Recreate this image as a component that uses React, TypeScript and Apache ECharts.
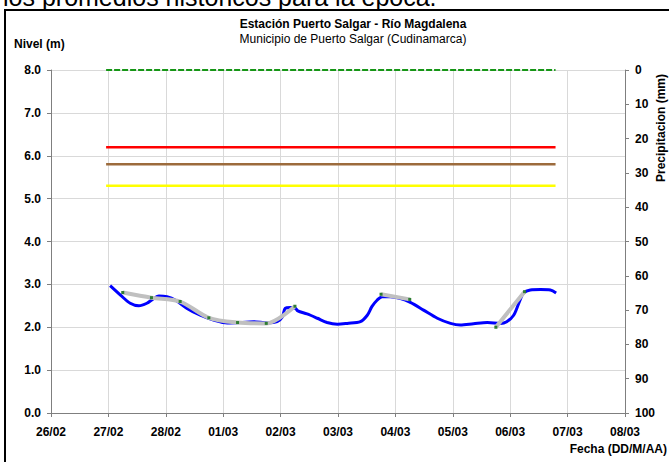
import React, { useEffect, useRef } from "react";
import * as echarts from "echarts";

const dateLabels = ["26/02", "27/02", "28/02", "01/03", "02/03", "03/03", "04/03", "05/03", "06/03", "07/03", "08/03"];

// x = days since 26/02, y = nivel (m)
const nivelObservado: [number, number][] = [
  [1.03, 2.97], [1.21, 2.75], [1.38, 2.56], [1.53, 2.5], [1.67, 2.56], [1.78, 2.66], [1.88, 2.73],
  [2.02, 2.71], [2.17, 2.63], [2.37, 2.44], [2.6, 2.28], [2.83, 2.17], [3.07, 2.1], [3.3, 2.11],
  [3.53, 2.13], [3.77, 2.1], [3.94, 2.13], [4.03, 2.24], [4.08, 2.44], [4.17, 2.46], [4.26, 2.44],
  [4.3, 2.38], [4.46, 2.31], [4.64, 2.21], [4.81, 2.11], [4.99, 2.07], [5.16, 2.09], [5.39, 2.13],
  [5.51, 2.28], [5.59, 2.48], [5.68, 2.63], [5.77, 2.71], [5.91, 2.71], [6.09, 2.67], [6.26, 2.58],
  [6.49, 2.4], [6.73, 2.21], [6.96, 2.09], [7.13, 2.05], [7.36, 2.08], [7.6, 2.11], [7.83, 2.09],
  [7.94, 2.13], [8.06, 2.28], [8.15, 2.56], [8.23, 2.79], [8.35, 2.87], [8.53, 2.88], [8.7, 2.87],
  [8.8, 2.8],
];

const nivelLecturas: ([number, number] | null)[] = [
  [1.25, 2.81], [1.75, 2.69], [2.25, 2.6], [2.75, 2.22], [3.25, 2.11], [3.75, 2.09], [4.25, 2.49],
  null,
  [5.75, 2.77], [6.25, 2.65],
  null,
  [7.75, 2.0], [8.25, 2.83],
];

const refStart = 0.96;
const refEnd = 8.79;
const alertaRoja = 6.2;
const alertaNaranja = 5.8;
const alertaAmarilla = 5.3;
const maximoHistorico = 8.0;

const FONT = "'Liberation Sans', Arial, sans-serif";

export default function App() {
  const ref = useRef<HTMLDivElement>(null);
  useEffect(() => {
    if (!ref.current) return;
    const chart = echarts.init(ref.current, null, { renderer: "svg" });
    const refLine = (v: number, color: string, width: number, type: any = "solid", z = 3) => ({
      type: "line",
      yAxisIndex: 0,
      data: [[refStart, v], [refEnd, v]],
      showSymbol: false,
      silent: true,
      z,
      lineStyle: { color, width, type },
    });
    chart.setOption({
      animation: false,
      backgroundColor: "#ffffff",
      textStyle: { fontFamily: FONT },
      grid: { left: 51, right: 44, top: 70, bottom: 49, containLabel: false },
      xAxis: {
        type: "value",
        min: 0,
        max: 10,
        interval: 1,
        axisLine: { lineStyle: { color: "#7f7f7f", width: 1 } },
        axisTick: { show: true, length: 4, lineStyle: { color: "#7f7f7f" } },
        axisLabel: {
          color: "#000",
          fontWeight: "bold",
          fontSize: 12,
          fontFamily: FONT,
          margin: 13,
          formatter: (v: number) => dateLabels[Math.round(v)] ?? "",
        },
        splitLine: { show: true, lineStyle: { color: "#d9d9d9", width: 1 } },
      },
      yAxis: [
        {
          type: "value",
          min: 0,
          max: 8,
          interval: 1,
          axisLine: { show: true, lineStyle: { color: "#7f7f7f", width: 1 } },
          axisTick: { show: true, length: 4, lineStyle: { color: "#7f7f7f" } },
          axisLabel: {
            color: "#000",
            fontWeight: "bold",
            fontSize: 12,
            fontFamily: FONT,
            margin: 10,
            formatter: (v: number) => v.toFixed(1),
          },
          splitLine: { show: true, lineStyle: { color: "#d9d9d9", width: 1 } },
        },
        {
          type: "value",
          position: "right",
          inverse: true,
          min: 0,
          max: 100,
          interval: 10,
          axisLine: { show: true, lineStyle: { color: "#7f7f7f", width: 1 } },
          axisTick: { show: true, length: 4, lineStyle: { color: "#7f7f7f" } },
          axisLabel: {
            color: "#000",
            fontWeight: "bold",
            fontSize: 12,
            fontFamily: FONT,
            margin: 10,
          },
          splitLine: { show: false },
        },
      ],
      series: [
        refLine(maximoHistorico, "#169616", 2, [6, 2], 3),
        refLine(alertaRoja, "#ff0000", 2.5),
        refLine(alertaNaranja, "#9c6b3c", 2.5),
        refLine(alertaAmarilla, "#ffff00", 2.5),
        {
          type: "line",
          yAxisIndex: 0,
          data: nivelObservado,
          smooth: 0.3,
          showSymbol: false,
          z: 4,
          lineStyle: { color: "#0000ff", width: 3 },
        },
        {
          type: "line",
          yAxisIndex: 0,
          data: nivelLecturas,
          smooth: 0.3,
          connectNulls: false,
          symbol: "rect",
          symbolSize: 3,
          showSymbol: true,
          z: 5,
          itemStyle: { color: "#2e7d32" },
          lineStyle: { color: "#c0c0c0", width: 4 },
        },
      ],
      graphic: [
        {
          type: "text",
          x: 3,
          y: 9,
          style: {
            text: "los promedios históricos para la época.",
            font: `25px ${FONT}`,
            fill: "#000",
            textVerticalAlign: "bottom",
          },
        },
        {
          type: "rect",
          shape: { x: 5, y: 10, width: 700, height: 500 },
          style: { fill: "#fff", stroke: "#000", lineWidth: 2 },
          z: -10,
        },
        {
          type: "text",
          x: 353,
          y: 24,
          style: {
            text: "Estación Puerto Salgar - Río Magdalena",
            font: `bold 12px ${FONT}`,
            fill: "#000",
            textAlign: "center",
            textVerticalAlign: "middle",
          },
        },
        {
          type: "text",
          x: 353,
          y: 39,
          style: {
            text: "Municipio de Puerto Salgar (Cudinamarca)",
            font: `12px ${FONT}`,
            fill: "#000",
            textAlign: "center",
            textVerticalAlign: "middle",
          },
        },
        {
          type: "text",
          x: 14,
          y: 44,
          style: {
            text: "Nivel (m)",
            font: `bold 12px ${FONT}`,
            fill: "#000",
            textAlign: "left",
            textVerticalAlign: "middle",
          },
        },
        {
          type: "text",
          x: 667,
          y: 449,
          style: {
            text: "Fecha (DD/M/AA)",
            font: `bold 12px ${FONT}`,
            fill: "#000",
            textAlign: "right",
            textVerticalAlign: "middle",
          },
        },
        {
          type: "text",
          x: 661,
          y: 128,
          rotation: Math.PI / 2,
          style: {
            text: "Precipitacion (mm)",
            font: `bold 12px ${FONT}`,
            fill: "#000",
            textAlign: "center",
            textVerticalAlign: "middle",
          },
        },
      ],
    });
    return () => chart.dispose();
  }, []);
  return (
    <div
      ref={ref}
      style={{ position: "fixed", left: 0, top: 0, width: 669, height: 462, background: "#fff" }}
    />
  );
}
